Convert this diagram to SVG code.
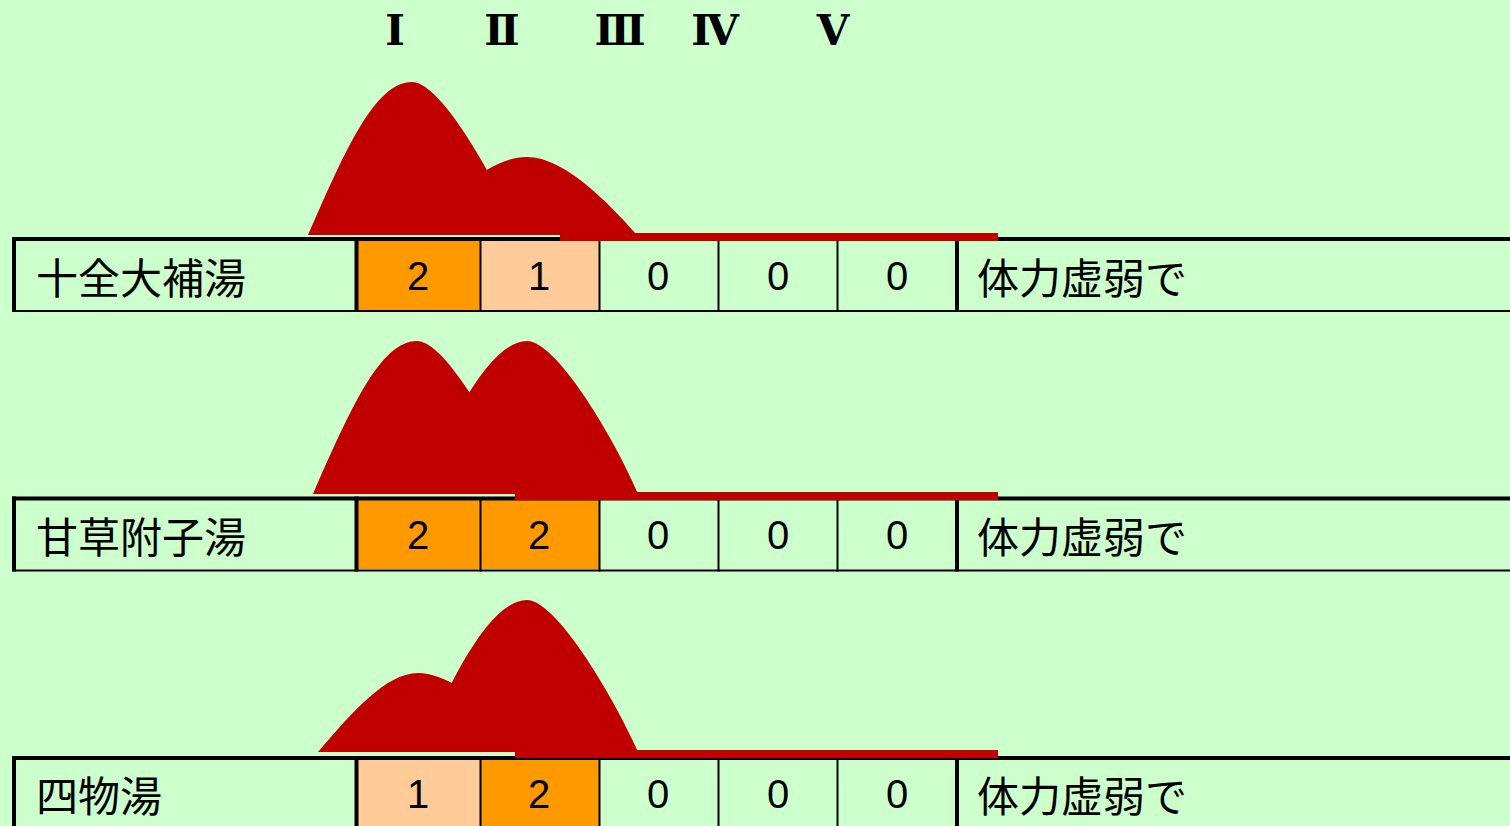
<svg xmlns="http://www.w3.org/2000/svg" width="1510" height="826" viewBox="0 0 1510 826">
<style>
.bg{fill:#CCFFCC}
.thick{stroke:#000;stroke-width:4;fill:none}
.thin{stroke:#000;stroke-width:2;fill:none}
.c2{fill:#FF9900}
.c1{fill:#FFCC99}
.name{font-family:"Noto Sans CJK JP","Noto Sans CJK SC",sans-serif;font-size:42px;fill:#000}
.num{font-family:"Liberation Sans",Arial,sans-serif;font-size:40px;fill:#000;text-anchor:middle}
.rom{font-family:"DejaVu Serif","Liberation Serif",serif;font-size:42px;font-weight:bold;fill:#000;text-anchor:middle}
.mt{fill:#C00000}
</style>
<defs>
<g id="grid">
<line class="thick" x1="12" y1="0" x2="1510" y2="0"/>
<line class="thin" x1="12" y1="72" x2="1510" y2="72"/>
<line class="thick" x1="14" y1="-2" x2="14" y2="73"/>
<line class="thick" x1="356.5" y1="-2" x2="356.5" y2="73"/>
<line class="thin" x1="480.5" y1="0" x2="480.5" y2="73"/>
<line class="thin" x1="599.5" y1="0" x2="599.5" y2="73"/>
<line class="thin" x1="718.5" y1="0" x2="718.5" y2="73"/>
<line class="thin" x1="837.5" y1="0" x2="837.5" y2="73"/>
<line class="thick" x1="957" y1="-2" x2="957" y2="73"/>
</g>
</defs>
<rect class="bg" x="0" y="0" width="1510" height="826"/>

<g id="header">
<text class="rom" x="395" y="45">Ⅰ</text>
<text class="rom" x="502" y="45">Ⅱ</text>
<text class="rom" x="620" y="45">Ⅲ</text>
<text class="rom" x="715" y="45">Ⅳ</text>
<text class="rom" x="833" y="45">Ⅴ</text>
</g>

<g id="row1">
<rect class="c2" x="358" y="240" width="122" height="70"/>
<rect class="c1" x="481" y="240" width="118" height="70"/>
<use href="#grid" transform="translate(0,239)"/>
<text class="name" x="36" y="294">十全大補湯</text>
<text class="num" x="418" y="290">2</text>
<text class="num" x="539" y="290">1</text>
<text class="num" x="658" y="290">0</text>
<text class="num" x="778" y="290">0</text>
<text class="num" x="897" y="290">0</text>
<text class="name" x="977" y="294">体力虚弱で</text>
</g>

<g id="row2">
<rect class="c2" x="358" y="499" width="122" height="70"/>
<rect class="c2" x="481" y="499" width="118" height="70"/>
<use href="#grid" transform="translate(0,498.5)"/>
<text class="name" x="36" y="553">甘草附子湯</text>
<text class="num" x="418" y="549">2</text>
<text class="num" x="539" y="549">2</text>
<text class="num" x="658" y="549">0</text>
<text class="num" x="778" y="549">0</text>
<text class="num" x="897" y="549">0</text>
<text class="name" x="977" y="553">体力虚弱で</text>
</g>

<g id="row3">
<rect class="c1" x="358" y="759" width="122" height="70"/>
<rect class="c2" x="481" y="759" width="118" height="70"/>
<use href="#grid" transform="translate(0,758)"/>
<text class="name" x="36" y="812">四物湯</text>
<text class="num" x="418" y="808">1</text>
<text class="num" x="539" y="808">2</text>
<text class="num" x="658" y="808">0</text>
<text class="num" x="778" y="808">0</text>
<text class="num" x="897" y="808">0</text>
<text class="name" x="977" y="812">体力虚弱で</text>
</g>

<g id="mountain1">
<path class="mt" d="M308,235 C345,150 375,82 412,82 C440,82 490,170 520,235 Z"/>
<path class="mt" d="M420,235 C450,195 490,157 527,157 C565,157 610,205 637,235 Z"/>
<rect class="mt" x="560" y="233" width="438" height="8"/>
</g>

<g id="mountain2">
<path class="mt" d="M313,494 C350,410 380,341 417,341 C445,341 495,430 525,494 Z"/>
<path class="mt" d="M420,494 C450,420 490,341 527,341 C555,341 610,430 638,494 Z"/>
<rect class="mt" x="515" y="492" width="483" height="8"/>
</g>

<g id="mountain3">
<path class="mt" d="M318,752 C350,715 385,673 418,673 C445,673 490,700 520,752 Z"/>
<path class="mt" d="M420,752 C450,680 490,600 527,600 C555,600 610,690 638,752 Z"/>
<rect class="mt" x="515" y="750" width="483" height="8"/>
</g>
</svg>
